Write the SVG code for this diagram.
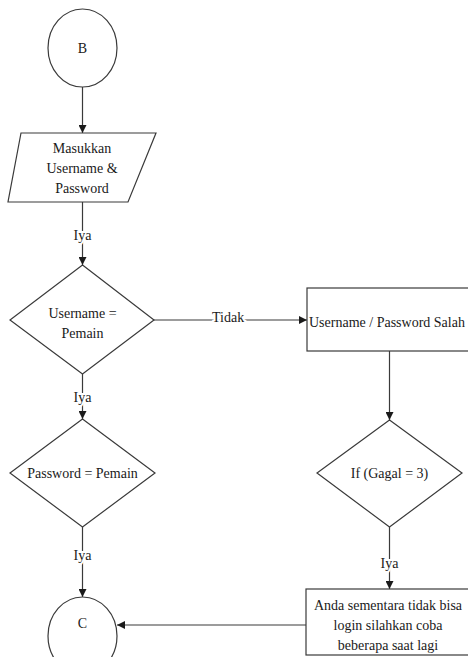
<svg xmlns="http://www.w3.org/2000/svg" width="468" height="657" viewBox="0 0 468 657">
<style>
.s{fill:#fff;stroke:#3a3a3a;stroke-width:1.2}
.c{fill:none;stroke:#3a3a3a;stroke-width:1.2}
text{font-family:"Liberation Serif","Times New Roman",serif;font-size:14px;fill:#1a1a1a}
.m{text-anchor:middle}
.lbl{paint-order:stroke;stroke:#fff;stroke-width:4px}
</style>
<defs>
<marker id="ah" viewBox="0 0 10 10" refX="10" refY="5" markerWidth="8" markerHeight="8" markerUnits="userSpaceOnUse" orient="auto">
<path d="M0,0 L10,5 L0,10 z" fill="#1a1a1a"/>
</marker>
</defs>
<rect width="468" height="657" fill="#fff"/>
<g id="connectors">
<line class="c" x1="82.5" y1="87" x2="82.5" y2="133" marker-end="url(#ah)"/>
<line class="c" x1="82.5" y1="202" x2="82.5" y2="265" marker-end="url(#ah)"/>
<line class="c" x1="82.5" y1="374" x2="82.5" y2="419" marker-end="url(#ah)"/>
<line class="c" x1="82.5" y1="527" x2="82.5" y2="597" marker-end="url(#ah)"/>
<line class="c" x1="154" y1="320" x2="307" y2="320" marker-end="url(#ah)"/>
<line class="c" x1="389.5" y1="351" x2="389.5" y2="420" marker-end="url(#ah)"/>
<line class="c" x1="389.5" y1="527" x2="389.5" y2="589" marker-end="url(#ah)"/>
<line class="c" x1="306" y1="625" x2="117" y2="625" marker-end="url(#ah)"/>
<text class="m lbl" x="82.5" y="240">Iya</text>
<text class="m lbl" x="82.5" y="402">Iya</text>
<text class="m lbl" x="82.5" y="560">Iya</text>
<text class="lbl" x="212" y="322">Tidak</text>
<text class="m lbl" x="389.5" y="568">Iya</text>
</g>
<g id="nodeB">
<ellipse class="s" cx="82.5" cy="48" rx="34.5" ry="39"/>
<text class="m" x="82.5" y="53">B</text>
</g>
<g id="input">
<polygon class="s" points="21,133 156,133 128,202 8,202"/>
<text class="m" x="82" y="153">Masukkan</text>
<text class="m" x="82" y="173">Username &amp;</text>
<text class="m" x="82" y="193">Password</text>
</g>
<g id="decUser">
<polygon class="s" points="82.5,265 154,320 82.5,374 10,320"/>
<text class="m" x="82.5" y="318">Username =</text>
<text class="m" x="82.5" y="338">Pemain</text>
</g>
<g id="decPass">
<polygon class="s" points="82.5,419 155,473 82.5,527 10,473"/>
<text class="m" x="82.5" y="478">Password = Pemain</text>
</g>
<g id="nodeC">
<ellipse class="s" cx="82.5" cy="636" rx="34.5" ry="39"/>
<text class="m" x="82.5" y="628">C</text>
</g>
<g id="errBox">
<rect class="s" x="307" y="288" width="163" height="63"/>
<text x="309" y="327">Username / Password Salah</text>
</g>
<g id="decGagal">
<polygon class="s" points="389.5,420 462,473 389.5,527 317,473"/>
<text class="m" x="389.5" y="478">If (Gagal = 3)</text>
</g>
<g id="blockBox">
<rect class="s" x="306" y="589" width="163" height="66"/>
<text class="m" x="388" y="610">Anda sementara tidak bisa</text>
<text class="m" x="388" y="630">login silahkan coba</text>
<text class="m" x="388" y="650">beberapa saat lagi</text>
</g>
</svg>
